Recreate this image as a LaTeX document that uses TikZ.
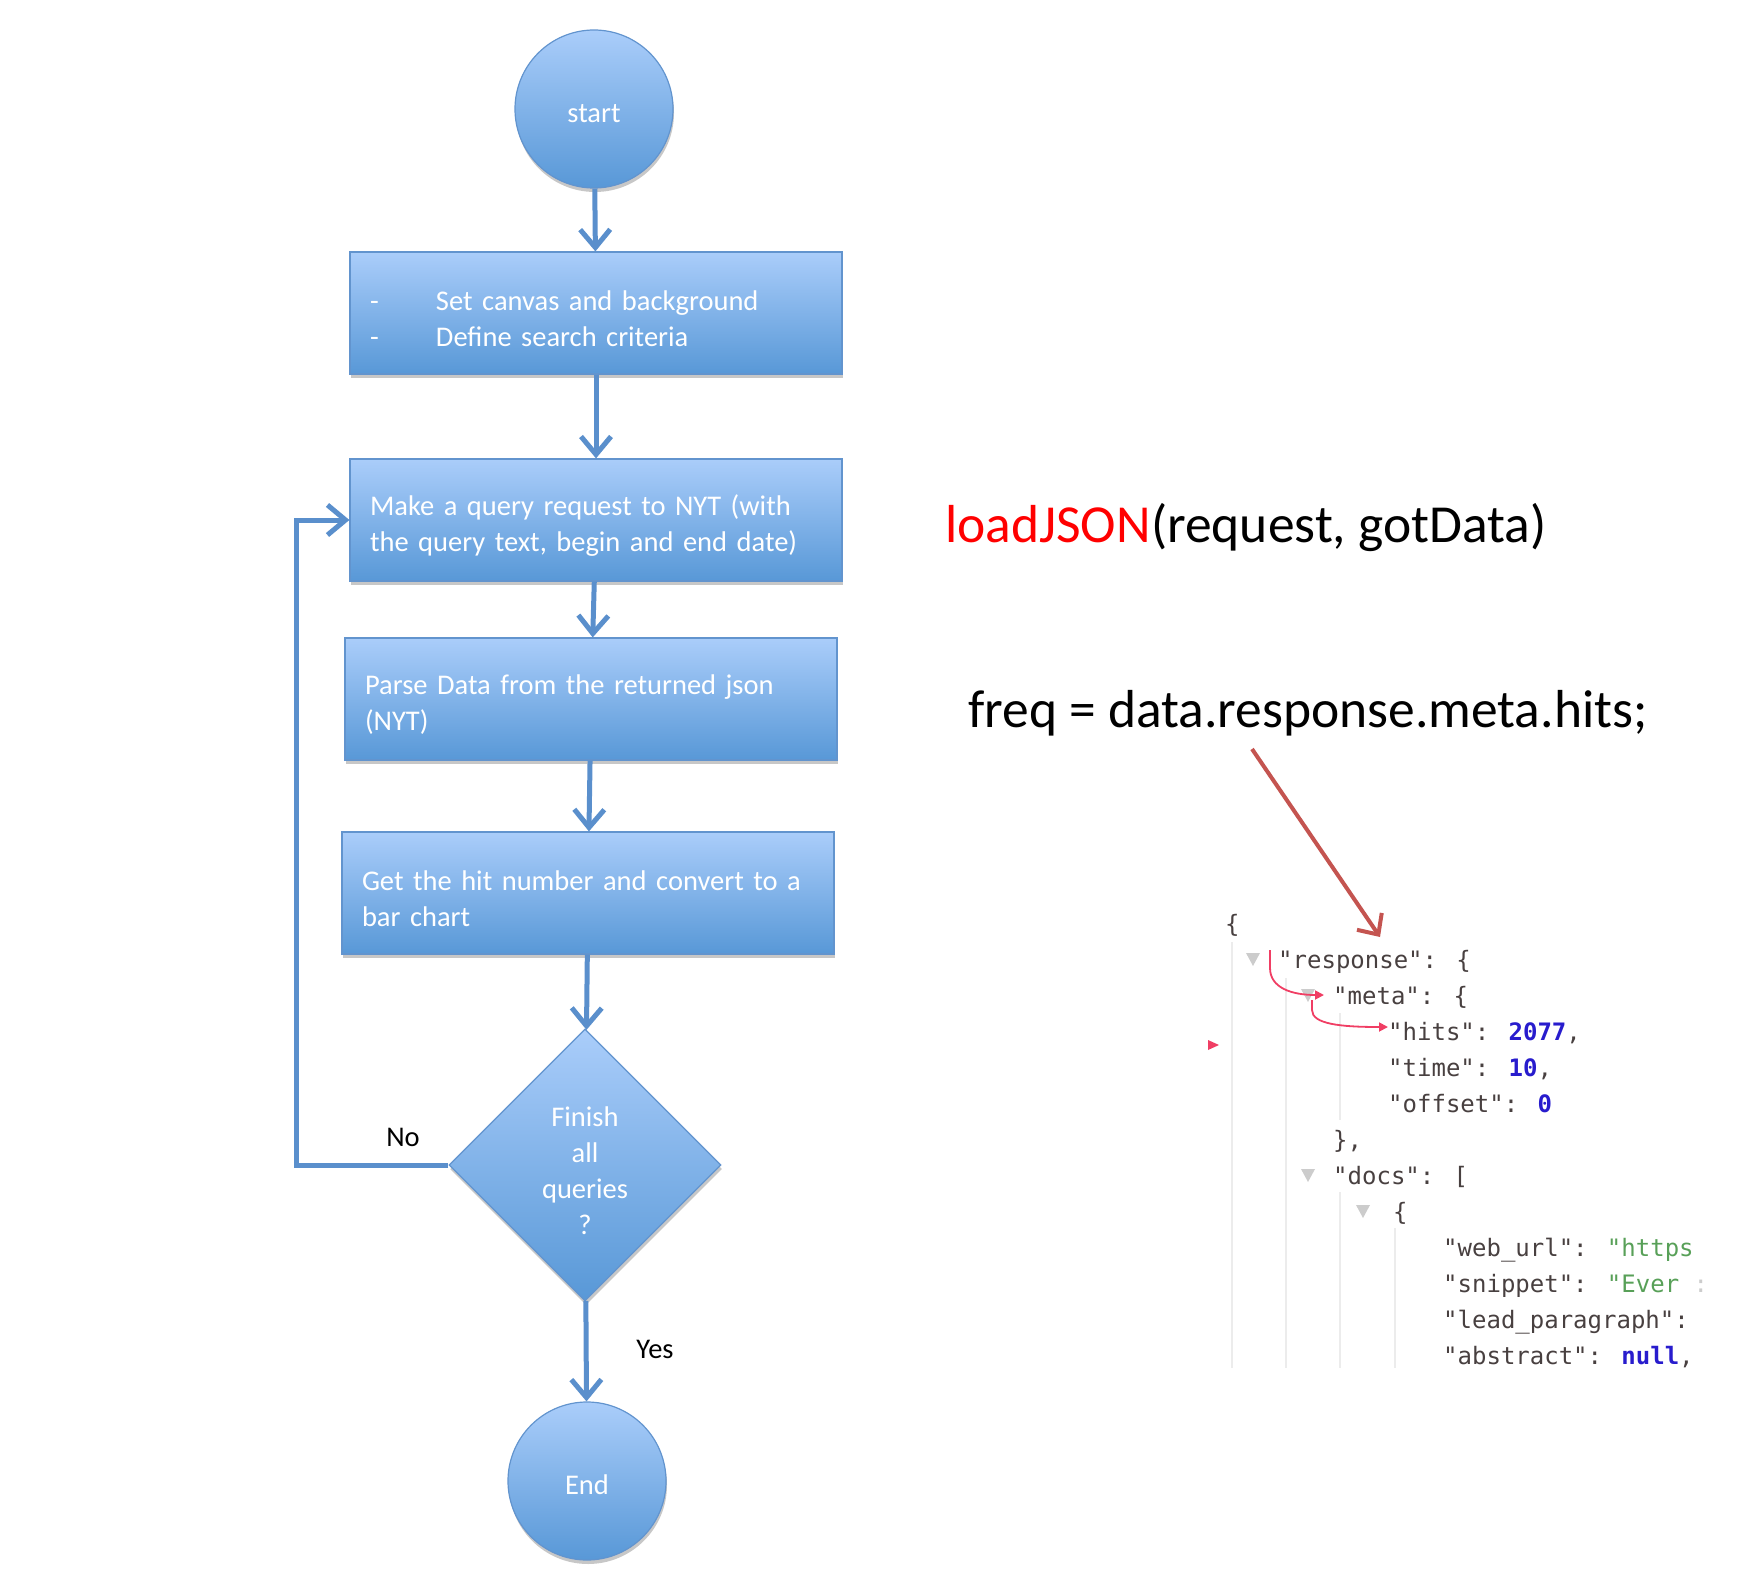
\documentclass[tikz,border=0pt]{standalone}
\usepackage{fontspec}
\setmainfont{Carlito}
\newfontfamily\jsonfont{DejaVu Sans Mono}
\usetikzlibrary{shapes.geometric,arrows.meta,shadows}

\definecolor{boxtop}{RGB}{170,205,250}
\definecolor{boxbot}{RGB}{88,152,215}
\definecolor{boxline}{RGB}{98,148,206}
\definecolor{flowline}{RGB}{90,143,204}
\definecolor{callred}{RGB}{196,84,80}
\definecolor{keygray}{RGB}{72,64,64}
\definecolor{numblue}{RGB}{40,28,205}
\definecolor{strgreen}{RGB}{88,160,88}
\definecolor{pointpink}{RGB}{240,62,100}
\definecolor{guidegray}{RGB}{236,236,236}
\definecolor{foldgray}{RGB}{204,204,204}

\begin{document}
\begin{tikzpicture}[x=1pt,y=-1pt,
  varjo/.style={drop shadow={shadow xshift=1pt,shadow yshift=-4pt,opacity=0.22,fill=black}},
  laatikko/.style={draw=boxline,line width=1.2pt,top color=boxtop,bottom color=boxbot,
    text=white,font=\fontsize{28.5}{36}\selectfont,varjo,
    execute at begin node={\rule{0pt}{31pt}}},
  ympyra/.style={laatikko,circle,minimum size=158pt,inner sep=0pt,text width=100pt,align=center,
    execute at begin node={\rule[-4pt]{0pt}{4pt}}},
  lohko/.style={laatikko,rectangle,minimum width=492pt,minimum height=122pt,
    text width=452pt,inner xsep=20pt,align=left},
  ruutu/.style={laatikko,diamond,minimum width=272pt,minimum height=272pt,inner sep=0pt,
    text width=100pt,align=center},
  nuoli/.style={draw=flowline,line width=5pt,-{Straight Barb[length=18pt,width=30pt]}},
  merkki/.style={font=\fontsize{28.5}{36}\selectfont},
  koodi/.style={font=\fontsize{53.5}{60}\selectfont,anchor=base west,inner sep=0pt},
  json/.style={font=\jsonfont\fontsize{24}{36}\selectfont,text=keygray,anchor=base west,inner sep=0pt},
  opas/.style={draw=guidegray,line width=1.5pt},
  pinkki/.style={draw=pointpink,line width=1.8pt,-{Triangle[length=9pt,width=9pt]}},
  osoitin/.style={draw=callred,line width=4pt,-{Straight Barb[length=16pt,width=30pt]}}]
\useasboundingbox (0,0) rectangle (1762,1586);

% flowchart
\node[ympyra] (1) at (594,109) {start};
\node[lohko] (2) at (596,313) {\makebox[66pt][l]{-}Set canvas and background\\\makebox[66pt][l]{-}Define search criteria};
\node[lohko] (3) at (596,520) {Make a query request to NYT (with\\the query text, begin and end date)};
\node[lohko] (4) at (591,699) {Parse Data from the returned json\\(NYT)};
\node[lohko] (5) at (588,893) {Get the hit number and convert to a\\bar chart};
\node[ruutu] (6) at (585,1165) {Finish\\all\\queries\\?};
\node[ympyra] (7) at (587,1481) {End};
\node[merkki] (ei) at (403,1137) {No};
\node[merkki] (kylla) at (655,1349) {Yes};

\path[nuoli] (1) -- (2);
\path[nuoli] (2) -- (3);
\path[nuoli] (3) -- (4);
\path[nuoli] (4) -- (5);
\path[nuoli] (5) -- (6);
\path[nuoli] (6) -- (7);
\path[nuoli] (6.west) -- ++(-152,0) |- (3.west);

% code
\node[koodi] (load) at (945,542) {{\color{red}loadJSON}(request, gotData)};
\node[koodi] (freq) at (968,727) {freq = data.response.meta.hits;};

% json view
\newcommand\rivi[3]{\node[json] (r#2) at (#1,{932+36*#2}) {#3};}
\newcommand\kolmio[2]{\fill[foldgray] ({#1-7},{917+36*#2}) -- ({#1+7},{917+36*#2}) -- (#1,{930+36*#2}) -- cycle;}
\path[opas] (1232,942) -- (1232,1368);
\path[opas] (1286,978) -- (1286,1368);
\path[opas] (1340,1013) -- (1340,1120);
\path[opas] (1340,1192) -- (1340,1368);
\path[opas] (1395,1228) -- (1395,1368);
\rivi{1225}{0}{\{}
\kolmio{1253}{1}
\rivi{1278}{1}{"response": \{}
\kolmio{1308}{2}
\rivi{1333}{2}{"meta": \{}
\rivi{1388}{3}{"hits": {\color{numblue}\bfseries 2077},}
\rivi{1388}{4}{"time": {\color{numblue}\bfseries 10},}
\rivi{1388}{5}{"offset": {\color{numblue}\bfseries 0}}
\rivi{1333}{6}{\},}
\kolmio{1308}{7}
\rivi{1333}{7}{"docs": [}
\kolmio{1363}{8}
\rivi{1393}{8}{\{}
\rivi{1443}{9}{"web\_url": {\color{strgreen}"https}}
\rivi{1443}{10}{"snippet": {\color{strgreen}"Ever} {\color{foldgray}:}}
\rivi{1443}{11}{"lead\_paragraph":}
\rivi{1443}{12}{"abstract": {\color{numblue}\bfseries null},}

\path[pinkki] (1270,950) -- (1270,968) .. controls (1270,988) and (1292,995) .. (1324,995);
\path[pinkki] (1312,1000) -- (1312,1010) .. controls (1312,1024) and (1340,1027) .. (1388,1027);
\fill[pointpink] (1208,1040) -- (1219,1045) -- (1208,1050) -- cycle;

\coordinate (freqpiste) at (1252,749);
\coordinate (vastaus) at (1380,937);
\path[osoitin] (freqpiste) -- (vastaus);
\end{tikzpicture}
\end{document}
